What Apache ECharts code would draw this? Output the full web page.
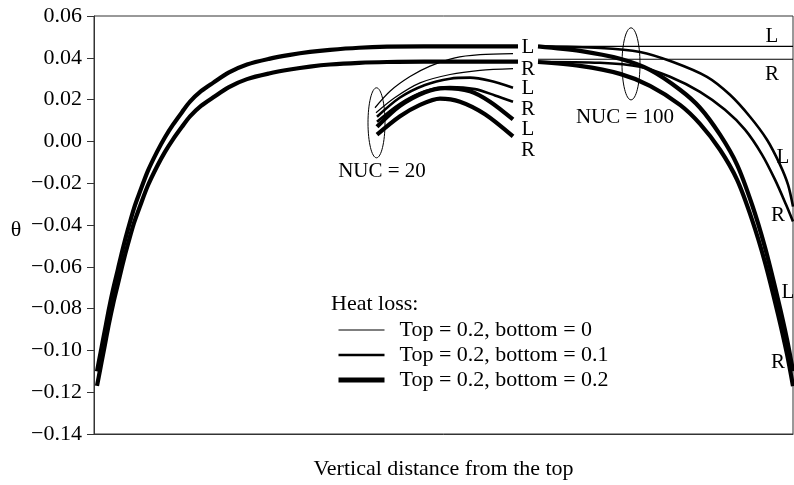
<!DOCTYPE html>
<html><head><meta charset="utf-8">
<script src="https://cdn.jsdelivr.net/npm/echarts@6/dist/echarts.min.js"></script>
<style>html,body{margin:0;padding:0;background:#fff}#c{width:794px;height:485px}</style>
</head><body><div id="c"></div>
<script>
const FONT = '"Liberation Serif","Times New Roman",serif';

// axis scale
const yMin = -0.14, yMax = 0.06, yStep = 0.02;
const xMin = 0, xMax = 699;

// legend names (heat loss cases)
const caseNames = ['Top = 0.2, bottom = 0', 'Top = 0.2, bottom = 0.1', 'Top = 0.2, bottom = 0.2'];

// left branch (bottom = 0.2), L and R
const leftL = [[3,-0.110],[6,-0.1025],[9,-0.095],[12,-0.0875],[15,-0.080],[19,-0.071],[24,-0.061],[29,-0.051],[34,-0.042],[40,-0.032],[46,-0.024],[54,-0.014],[63,-0.005],[71,0.002],[79,0.008],[88,0.014],[96,0.019],[107,0.024],[119,0.028],[135,0.033],[153,0.0368],[175,0.0395],[196,0.0414],[216,0.0428],[236,0.0438],[265,0.0448],[293,0.0453],[330,0.0455],[424,0.0455]];
const leftR = [[3,-0.117],[6,-0.1095],[9,-0.102],[12,-0.0945],[15,-0.087],[19,-0.078],[24,-0.068],[29,-0.058],[34,-0.049],[40,-0.039],[46,-0.031],[54,-0.021],[63,-0.012],[71,-0.005],[79,0.001],[88,0.007],[96,0.012],[107,0.017],[119,0.021],[135,0.026],[153,0.0298],[175,0.0325],[196,0.0344],[216,0.0358],[236,0.0368],[265,0.0376],[293,0.0380],[330,0.0382],[424,0.0382]];

// NUC = 20 curves
const nuc20ThinL = [[281,0.0161],[296,0.024],[316,0.031],[336,0.036],[361,0.040],[386,0.0415],[419,0.042]];
const nuc20ThinR = [[282,0.0137],[301,0.021],[326,0.028],[356,0.032],[386,0.034],[419,0.0348]];
const nuc20MedL  = [[283,0.0118],[306,0.021],[331,0.027],[356,0.030],[376,0.0305],[396,0.029],[419,0.0257]];
const nuc20MedR  = [[283,0.0094],[306,0.018],[331,0.024],[356,0.026],[381,0.025],[401,0.022],[419,0.019]];
const nuc20ThkL  = [[283,0.0070],[306,0.017],[331,0.0235],[351,0.0255],[376,0.024],[396,0.019],[419,0.0105]];
const nuc20ThkR  = [[283,0.0032],[306,0.012],[326,0.0175],[346,0.0205],[366,0.019],[391,0.013],[419,0.0024]];

// NUC = 100 curves
const nuc100ThinL = [[444,0.0455],[699,0.0455]];
const nuc100ThinR = [[444,0.0393],[699,0.0393]];
const nuc100MedL  = [[444,0.0455],[506,0.0447],[546,0.0428],[579,0.0380],[613,0.0309],[636,0.0223],[656,0.0118],[673,0.0008],[686,-0.0111],[694,-0.0207],[699,-0.0312]];
const nuc100MedR  = [[444,0.0380],[506,0.0376],[546,0.0357],[576,0.0309],[606,0.0237],[631,0.0151],[651,0.0056],[668,-0.0063],[681,-0.0183],[692,-0.0302],[699,-0.0383]];
const nuc100ThkL  = [[444,0.0455],[486,0.0433],[526,0.0395],[556,0.0342],[586,0.0247],[606,0.0161],[626,0.0032],[643,-0.0111],[658,-0.0302],[671,-0.0507],[684,-0.0756],[693,-0.0947],[699,-0.1099]];
const nuc100ThkR  = [[444,0.0380],[486,0.0361],[526,0.0323],[556,0.0266],[586,0.0175],[606,0.0084],[626,-0.0040],[643,-0.0183],[658,-0.0374],[671,-0.0579],[684,-0.0827],[693,-0.1018],[699,-0.1171]];

// annotation texts in data coordinates [x, y, text]
const sideLabels = [
  [434,0.0447,'L'],[434,0.0342,'R'],[434,0.0252,'L'],[434,0.0151,'R'],[434,0.0056,'L'],[434,-0.0044,'R'],
  [678,0.0500,'L'],[678,0.0318,'R'],[689,-0.0078,'L'],[684,-0.0355,'R'],[694,-0.0722,'L'],[684,-0.1056,'R']
];
const groupLabels = [[288,-0.0145,'NUC = 20'],[531,0.0113,'NUC = 100']];
const groupEllipses = [[282.5,0.0089],[537,0.0371]];

const widths = [1.2, 2.6, 4.2];
const curves = [
  [leftL,2],[leftR,2],
  [nuc20ThinL,0],[nuc20ThinR,0],[nuc20MedL,1],[nuc20MedR,1],[nuc20ThkL,2],[nuc20ThkR,2],
  [nuc100ThinL,0],[nuc100ThinR,0],[nuc100MedL,1],[nuc100MedR,1],[nuc100ThkL,2],[nuc100ThkR,2]
];

const series = curves.map(([d,k]) => ({
  type:'line', name:caseNames[k], data:d, symbol:'none', smooth:0.3,
  lineStyle:{color:'#000', width:widths[k]}, itemStyle:{color:'#000'},
  silent:true, animation:false
}));

const fmt = v => { const s = Math.abs(v).toFixed(2); return v < -1e-9 ? '\u2212' + s : s; };

const option = {
  animation:false,
  backgroundColor:'#fff',
  grid:{left:94, right:1, top:16, bottom:50, show:true, borderColor:'#333', borderWidth:1, backgroundColor:'transparent'},
  xAxis:{type:'value', min:xMin, max:xMax, axisLabel:{show:false}, axisTick:{show:false}, splitLine:{show:false},
    axisLine:{onZero:false, lineStyle:{color:'#333', width:1}},
    name:'Vertical distance from the top', nameLocation:'middle', nameGap:24,
    nameTextStyle:{fontFamily:FONT, fontSize:22, color:'#000'}},
  yAxis:{type:'value', min:yMin, max:yMax, interval:yStep, splitLine:{show:false},
    axisLine:{show:true, onZero:false, lineStyle:{color:'#333', width:1}},
    axisTick:{show:true, inside:false, length:7, lineStyle:{color:'#333'}},
    axisLabel:{formatter:fmt, fontFamily:FONT, fontSize:22, color:'#000', margin:12}},
  legend:{show:true, orient:'vertical', left:336, top:319, padding:0, itemGap:3, itemWidth:46, itemHeight:1,
    selectedMode:false,
    textStyle:{fontFamily:FONT, fontSize:22, color:'#000', lineHeight:22, padding:[0,0,0,10]},
    data:caseNames.map((n,i)=>({name:n, lineStyle:{color:'#000', width:widths[i]+(i===2?0.8:0)},
      itemStyle:{color:'rgba(0,0,0,0)', borderWidth:0, opacity:0}}))},
  series
};

const chart = echarts.init(document.getElementById('c'), null, {renderer:'canvas'});
chart.setOption(option);
const toPx = p => chart.convertToPixel({gridIndex:0}, p);
const graphic = [];
sideLabels.concat(groupLabels).forEach(([x,y,t]) => {
  const [gx,gy] = toPx([x,y]);
  graphic.push({type:'text', x:gx, y:gy, silent:true,
    style:{text:t, fontFamily:FONT, fontSize:21, fill:'#000', align:'center', verticalAlign:'middle'}});
});
groupEllipses.forEach(([x,y],i) => {
  const [gx,gy] = toPx([x,y]);
  graphic.push({type:'ellipse', silent:true, shape:{cx:gx, cy:gy, rx:i===0?8.5:9, ry:i===0?35:36},
    style:{fill:'none', stroke:'#000', lineWidth:1}});
});
graphic.push({type:'text', x:16, y:230, silent:true,
  style:{text:'\u03b8', fontFamily:FONT, fontSize:22, fill:'#000', align:'center', verticalAlign:'middle'}});
graphic.push({type:'text', x:331, y:304, silent:true,
  style:{text:'Heat loss:', fontFamily:FONT, fontSize:22, fill:'#000', align:'left', verticalAlign:'middle'}});
chart.setOption({graphic});
</script>
</body></html>
